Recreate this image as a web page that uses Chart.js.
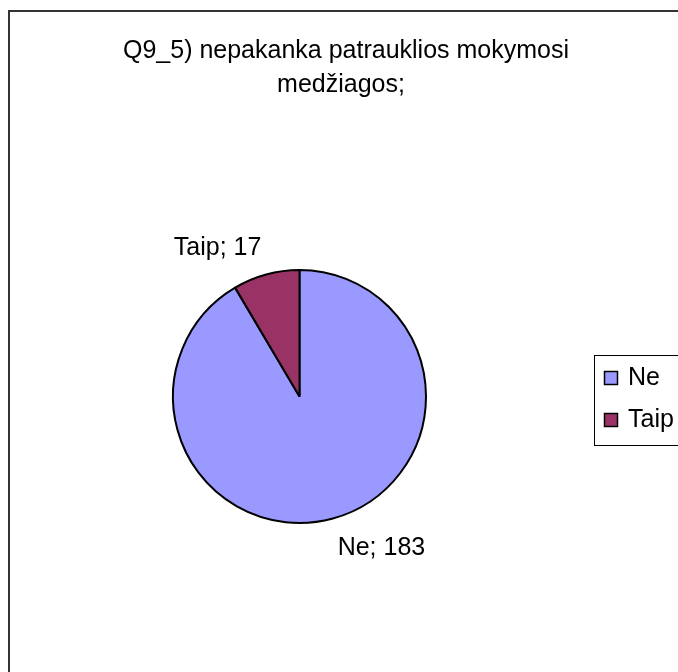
<!DOCTYPE html>
<html>
<head>
<meta charset="utf-8">
<script src="https://cdn.jsdelivr.net/npm/chart.js@4"></script>
<style>
  html, body { margin: 0; padding: 0; background: #ffffff; }
  #wrap { width: 678px; height: 672px; position: relative; }
</style>
</head>
<body>
<div id="wrap"><canvas id="c" width="678" height="672"></canvas></div>
<script>
const titleLines = ["Q9_5) nepakanka patrauklios mokymosi", "medžiagos;"];
const categories = ["Ne", "Taip"];
const values = [183, 17];
const colors = ["#9999FF", "#993366"];

const FONT = '"Liberation Sans", Arial, sans-serif';

const decorPlugin = {
  id: 'decor',
  afterDraw(chart) {
    const ctx = chart.ctx;
    ctx.save();
    // outer frame
    ctx.strokeStyle = '#333333';
    ctx.lineWidth = 2;
    ctx.beginPath();
    ctx.moveTo(9, 700);
    ctx.lineTo(9, 11);
    ctx.lineTo(700, 11);
    ctx.stroke();

    // title
    ctx.fillStyle = '#000';
    ctx.font = '25px ' + FONT;
    ctx.textAlign = 'center';
    ctx.textBaseline = 'alphabetic';
    ctx.fillText(titleLines[0], 346, 58);
    ctx.fillText(titleLines[1], 341, 92);

    // data labels
    const meta = chart.getDatasetMeta(0);
    ctx.font = '25px ' + FONT;
    ctx.textBaseline = 'alphabetic';
    meta.data.forEach((arc, i) => {
      const mid = (arc.startAngle + arc.endAngle) / 2;
      const dx = Math.cos(mid), dy = Math.sin(mid);
      const r = arc.outerRadius + 18;
      const x = arc.x + dx * r, y = arc.y + dy * r;
      ctx.textAlign = dx < 0 ? 'right' : 'left';
      const by = dy < 0 ? y - 2 : y + 19;
      ctx.fillText(categories[i] + '; ' + values[i], x, by);
    });

    // legend
    ctx.fillStyle = '#fff';
    ctx.strokeStyle = '#000';
    ctx.lineWidth = 1;
    ctx.fillRect(594.5, 355.5, 120, 90);
    ctx.strokeRect(594.5, 355.5, 120, 90);
    categories.forEach((c, i) => {
      const y = 378 + i * 42;
      ctx.fillStyle = colors[i];
      ctx.fillRect(604.5, y - 6.5, 13, 13);
      ctx.strokeStyle = '#000';
      ctx.lineWidth = 1.5;
      ctx.strokeRect(604.5, y - 6.5, 13, 13);
      ctx.fillStyle = '#000';
      ctx.textAlign = 'left';
      ctx.textBaseline = 'alphabetic';
      ctx.font = '25px ' + FONT;
      ctx.fillText(c, 628, y + 7);
    });
    ctx.restore();
  }
};

new Chart(document.getElementById('c'), {
  type: 'pie',
  data: {
    labels: categories,
    datasets: [{
      data: values,
      backgroundColor: colors,
      borderColor: '#000000',
      borderWidth: 2
    }]
  },
  options: {
    responsive: false,
    animation: false,
    layout: { padding: { left: 172, right: 251, top: 269, bottom: 148 } },
    plugins: {
      legend: { display: false },
      title: { display: false },
      tooltip: { enabled: false }
    }
  },
  plugins: [decorPlugin]
});
</script>
</body>
</html>
